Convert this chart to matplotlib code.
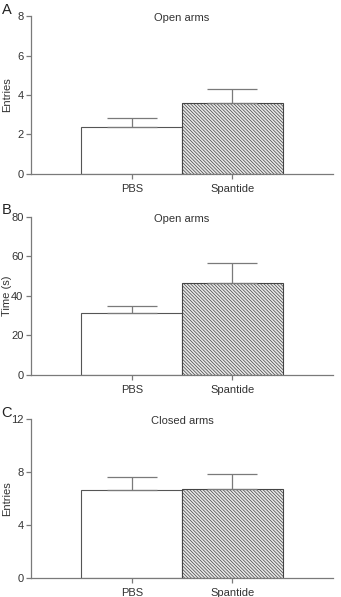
import matplotlib.pyplot as plt

groups = ["PBS", "Spantide"]
titles = ["Open arms", "Open arms", "Closed arms"]
letters = ["A", "B", "C"]
ylabels = ["Entries", "Time (s)", "Entries"]
means = [[2.38, 3.61], [31.4, 46.4], [6.63, 6.73]]
sems = [[0.45, 0.69], [3.3, 10.1], [0.98, 1.11]]
yticks = [[0, 2, 4, 6, 8], [0, 20, 40, 60, 80], [0, 4, 8, 12]]

plt.rcParams["font.family"] = ["Liberation Sans", "DejaVu Sans"]
gray = "#7a7a7a"
plt.rcParams["hatch.linewidth"] = 0.5
plt.rcParams["hatch.color"] = "#3a3a3a"

fig = plt.figure(figsize=(3.41, 5.97), dpi=100)
boxes = [(0.709, 0.973), (0.372, 0.6365), (0.032, 0.298)]

for i in range(3):
    b, t = boxes[i]
    ax = fig.add_axes([0.091, b, 0.886, t - b])
    x = [1, 2]
    ax.bar(x[0], means[i][0], width=1, color="white", edgecolor="#555555", linewidth=0.8)
    ax.bar(x[1], means[i][1], width=1, color="#e8e8e8", edgecolor="#444444", linewidth=0.8,
           hatch="\\" * 10)
    ax.errorbar(x, means[i], yerr=[[0, 0], sems[i]], fmt="none", ecolor=gray,
                elinewidth=0.9, capsize=18, capthick=0.9)
    ax.set_xlim(0, 3)
    ax.set_ylim(0, yticks[i][-1])
    ax.set_yticks(yticks[i])
    ax.set_xticks(x)
    ax.set_xticklabels(groups)
    for s in ["top", "right"]:
        ax.spines[s].set_visible(False)
    for s in ["left", "bottom"]:
        ax.spines[s].set_color(gray)
        ax.spines[s].set_linewidth(0.9)
    ax.tick_params(colors=gray, labelcolor="#333333", labelsize=8, length=3.5, width=0.9, pad=2)
    ax.tick_params(axis="x", pad=4)
    ax.set_ylabel(ylabels[i], fontsize=8, color="#333333")
    ax.yaxis.set_label_coords(-0.062, 0.5)
    ax.text(0.5, 0.99, titles[i], transform=ax.transAxes, ha="center", va="center",
            fontsize=8, color="#333333")
    fig.text(0.005, t + 0.011, letters[i], fontsize=10.5, color="#222222", va="center")

fig.savefig("out.png", dpi=100)
